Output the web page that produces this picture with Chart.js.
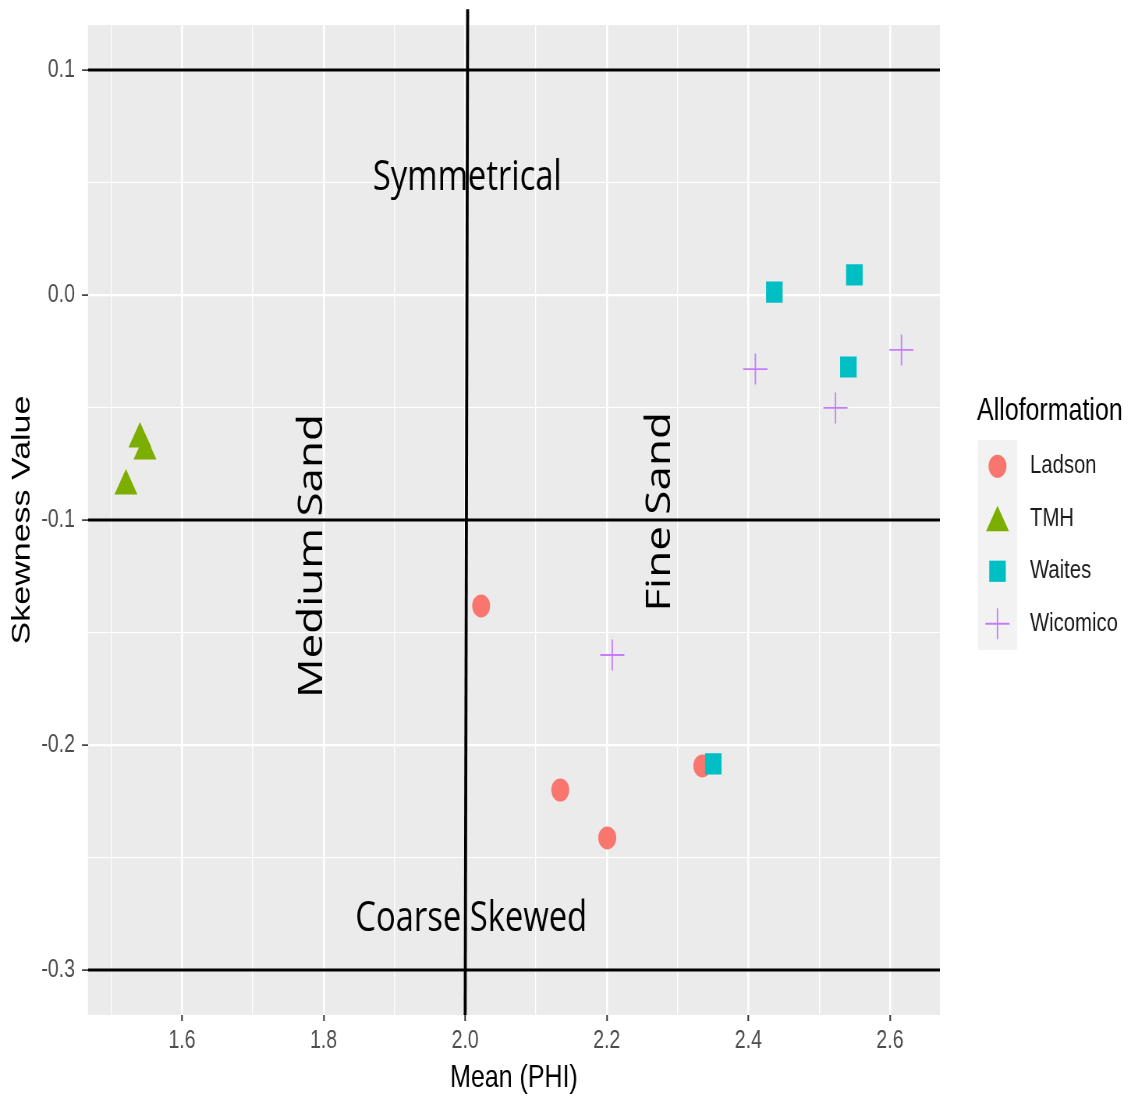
<!DOCTYPE html>
<html><head><meta charset="utf-8">
<script src="https://cdn.jsdelivr.net/npm/chart.js@4/dist/chart.umd.min.js"></script>
<style>
html,body{margin:0;padding:0;overflow:hidden;background:#fff;width:1131px;height:1099px}
#wrap{width:1450px;height:1099px;transform:scaleX(0.78);transform-origin:0 0}
canvas{display:block}
</style></head><body>
<div id="wrap"><canvas id="c" width="1450" height="1099"></canvas></div>
<script>
// ---- data ----
const seriesNames = ['Ladson', 'TMH', 'Waites', 'Wicomico'];
const ladsonX = [2.0226, 2.1343, 2.2007, 2.3350];
const ladsonY = [-0.1382, -0.2200, -0.2413, -0.2093];
const tmhX = [1.5406, 1.5477, 1.5208];
const tmhY = [-0.0640, -0.0693, -0.0849];
const waitesX = [2.4367, 2.5498, 2.5413, 2.3505];
const waitesY = [0.0013, 0.0089, -0.0320, -0.2084];
const wicomicoX = [2.4099, 2.5230, 2.6163, 2.2078];
const wicomicoY = [-0.0329, -0.0502, -0.0244, -0.1600];

const xTickValues = [1.6, 1.8, 2.0, 2.2, 2.4, 2.6];
const xMinorValues = [1.5, 1.7, 1.9, 2.1, 2.3, 2.5];
const yTickValues = [0.1, 0.0, -0.1, -0.2, -0.3];
const yMinorValues = [0.05, -0.05, -0.15, -0.25];
const X_MIN = 1.4672, X_MAX = 2.6706;
const Y_MIN = -0.32, Y_MAX = 0.12;

const hLineValues = [0.1, -0.1, -0.3];
const vLineX = [2.0035, 2.0];
const vLineY = [0.127, -0.32];

const noteTexts = ['Symmetrical', 'Coarse Skewed', 'Medium Sand', 'Fine Sand'];
const noteX = [2.003, 2.0085, 1.7837, 2.2756];
const noteY = [0.0520, -0.2775, -0.116, -0.0964];
const noteRot = [0, 0, -90, -90];

// ---- styles ----
const SX = 0.78;
const colors = ['#F8766D', '#7CAE00', '#00BFC4', '#C77CFF'];
const styles = ['circle', 'triangle', 'rect', 'cross'];
const radii = [11.5, 17, 15, 15.5];
const FONT = '"Liberation Sans", Arial, sans-serif';

const isIn = (v, arr) => arr.some(a => Math.abs(a - v) < 1e-6);

const seriesX = [ladsonX, tmhX, waitesX, wicomicoX];
const seriesY = [ladsonY, tmhY, waitesY, wicomicoY];

const datasets = [];
hLineValues.forEach(v => datasets.push({
  label: 'h', data: [{x: X_MIN, y: v}, {x: X_MAX, y: v}], showLine: true,
  pointRadius: 0, borderColor: '#000', borderWidth: 3, order: 10
}));
datasets.push({
  label: 'v', data: vLineX.map((x, i) => ({x, y: vLineY[i]})), showLine: true,
  pointRadius: 0, borderColor: '#000', borderWidth: 3.8, order: 10, clip: false
});
seriesNames.forEach((n, i) => datasets.push({
  label: n,
  data: seriesX[i].map((x, j) => ({x, y: seriesY[i][j]})),
  pointStyle: styles[i], pointRadius: radii[i],
  backgroundColor: colors[i], borderColor: colors[i],
  borderWidth: styles[i] === 'cross' ? 1.8 : 0,
  order: 5 - i
}));

function drawMarker(ctx, style, x, y, r, color) {
  ctx.save();
  ctx.fillStyle = color; ctx.strokeStyle = color;
  ctx.beginPath();
  if (style === 'circle') { ctx.arc(x, y, r, 0, Math.PI * 2); ctx.fill(); }
  else if (style === 'triangle') {
    for (let k = 0; k < 3; k++) {
      const a = k * 2 * Math.PI / 3;
      const px = x + Math.sin(a) * r, py = y - Math.cos(a) * r;
      k ? ctx.lineTo(px, py) : ctx.moveTo(px, py);
    }
    ctx.closePath(); ctx.fill();
  } else if (style === 'rect') {
    const s = Math.SQRT1_2 * r; ctx.rect(x - s, y - s, 2 * s, 2 * s); ctx.fill();
  } else {
    ctx.lineWidth = 1.8;
    ctx.moveTo(x, y - r); ctx.lineTo(x, y + r); ctx.moveTo(x - r, y); ctx.lineTo(x + r, y); ctx.stroke();
  }
  ctx.restore();
}

const panelPlugin = {
  id: 'panel',
  beforeDraw(chart) {
    const {ctx, chartArea: a} = chart;
    ctx.save();
    ctx.fillStyle = '#fff'; ctx.fillRect(0, 0, chart.width, chart.height);
    ctx.fillStyle = '#EBEBEB'; ctx.fillRect(a.left, a.top, a.right - a.left, a.bottom - a.top);
    ctx.restore();
  },
  afterDatasetsDraw(chart) {
    const {ctx} = chart;
    const xs = chart.scales.x, ys = chart.scales.y;
    noteTexts.forEach((t, i) => {
      ctx.save();
      ctx.translate(xs.getPixelForValue(noteX[i]), ys.getPixelForValue(noteY[i]));
      ctx.rotate(noteRot[i] * Math.PI / 180);
      ctx.font = (noteRot[i] ? 44 : 42) + 'px "Open Sans", sans-serif';
      ctx.fillStyle = '#000'; ctx.textAlign = 'center'; ctx.textBaseline = 'middle';
      ctx.fillText(t, 0, 0);
      ctx.restore();
    });
  },
  afterDraw(chart) {
    const {ctx} = chart;
    ctx.save();
    ctx.fillStyle = '#000';
    ctx.font = '32px ' + FONT; ctx.textBaseline = 'alphabetic'; ctx.textAlign = 'left';
    ctx.fillText('Alloformation', 977 / SX, 420);
    const kx = 978 / SX, kw = 39 / SX, ky = 440, kh = 52.5;
    ctx.fillStyle = '#F2F2F2';
    ctx.fillRect(kx, ky, kw, kh * seriesNames.length);
    seriesNames.forEach((n, i) => {
      const cy = ky + kh * (i + 0.5);
      const my = styles[i] === 'triangle' ? cy + 4 : cy;
      drawMarker(ctx, styles[i], kx + kw / 2, my, radii[i], colors[i]);
      ctx.fillStyle = '#1A1A1A';
      ctx.font = '26px ' + FONT; ctx.textBaseline = 'middle';
      ctx.fillText(n, 1030 / SX, cy);
    });
    ctx.restore();
  }
};

new Chart(document.getElementById('c'), {
  type: 'scatter',
  data: {datasets},
  plugins: [panelPlugin],
  options: {
    responsive: false, animation: false, devicePixelRatio: 1, events: [],
    layout: {padding: {left: 0, top: 25, right: 245, bottom: 0}},
    plugins: {legend: {display: false}, tooltip: {enabled: false}},
    scales: {
      x: {
        type: 'linear', min: X_MIN, max: X_MAX,
        afterBuildTicks: s => { s.ticks = xMinorValues.concat(xTickValues).sort((a, b) => a - b).map(v => ({value: v})); },
        afterFit: s => { s.height = 84; },
        ticks: {
          callback: v => isIn(v, xTickValues) ? Number(v).toFixed(1) : '',
          font: {family: FONT, size: 25}, color: '#4D4D4D', padding: 5, autoSkip: false, maxRotation: 0, minRotation: 0
        },
        grid: {
          color: '#FFFFFF',
          lineWidth: c => (c.tick && isIn(c.tick.value, xTickValues)) ? 2.6 : 1.3,
          tickColor: c => (c.tick && isIn(c.tick.value, xTickValues)) ? '#333333' : 'rgba(0,0,0,0)',
          tickLength: 6, tickWidth: 2
        },
        border: {display: false},
        title: {display: true, text: 'Mean (PHI)', font: {family: FONT, size: 32}, color: '#000', padding: {top: 0, bottom: 2}}
      },
      y: {
        type: 'linear', min: Y_MIN, max: Y_MAX,
        afterBuildTicks: s => { s.ticks = yMinorValues.concat(yTickValues).sort((a, b) => a - b).map(v => ({value: v})); },
        afterFit: s => { s.width = 112.8; },
        ticks: {
          callback: v => isIn(v, yTickValues) ? Number(v).toFixed(1) : '',
          font: {family: FONT, size: 25}, color: '#4D4D4D', padding: 9, autoSkip: false
        },
        grid: {
          color: '#FFFFFF',
          lineWidth: c => (c.tick && isIn(c.tick.value, yTickValues)) ? 2.2 : 1.1,
          tickColor: c => (c.tick && isIn(c.tick.value, yTickValues)) ? '#333333' : 'rgba(0,0,0,0)',
          tickLength: 7.7, tickWidth: 1.6
        },
        border: {display: false},
        title: {display: true, text: 'Skewness Value', font: {family: FONT, size: 34}, color: '#000', padding: {top: 8, bottom: 0}}
      }
    }
  }
});
</script>
</body></html>
